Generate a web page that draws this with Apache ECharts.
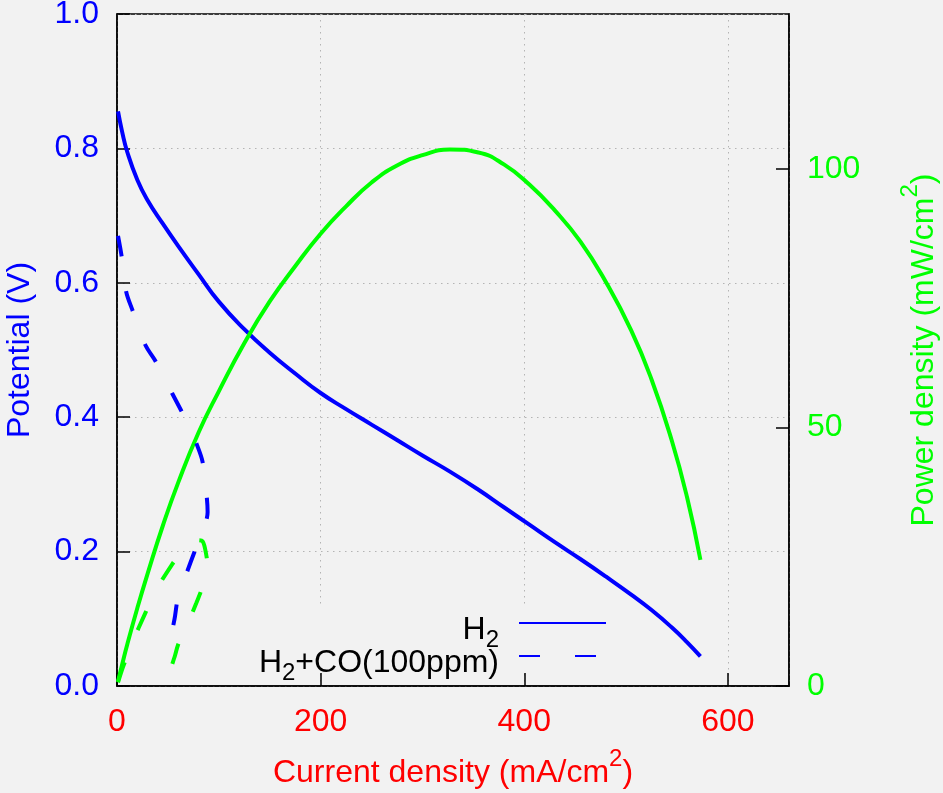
<!DOCTYPE html>
<html>
<head>
<meta charset="utf-8">
<script src="https://cdn.jsdelivr.net/npm/echarts@6/dist/echarts.min.js"></script>
<style>
html,body{margin:0;padding:0;background:#f2f2f2;}
#chart{width:943px;height:793px;}
</style>
</head>
<body>
<div id="chart"></div>
<script>
// H2 (pure hydrogen) polarisation data
const h2Current   = [1, 5, 10, 20, 30, 45, 60, 80, 100, 125, 150, 175, 200, 225, 250, 275, 300, 327, 355, 380, 405, 430, 455, 480, 505, 525, 545, 560, 573];
const h2Potential = [0.855, 0.825, 0.795, 0.753, 0.723, 0.688, 0.655, 0.613, 0.572, 0.531, 0.496, 0.465, 0.436, 0.412, 0.389, 0.366, 0.343, 0.319, 0.292, 0.266, 0.240, 0.214, 0.189, 0.163, 0.136, 0.113, 0.087, 0.065, 0.044];
const h2Power     = [0.9, 4.1, 8.0, 15.1, 21.7, 31.0, 39.3, 49.0, 57.0, 66.3, 74.4, 81.2, 87.5, 92.8, 97.4, 100.7, 102.7, 103.8, 103.2, 100.9, 97.0, 92.0, 86.0, 78.2, 68.8, 59.3, 47.4, 36.4, 24.4];

// H2 + CO (100 ppm) data
const coCurrent   = [1, 4.5, 9, 15, 28, 38, 54, 63, 72, 78, 84, 88, 89, 84, 78, 72, 66, 60, 57, 53, 58];
const coPotential = [0.670, 0.640, 0.587, 0.560, 0.507, 0.483, 0.436, 0.410, 0.383, 0.361, 0.334, 0.284, 0.259, 0.228, 0.207, 0.183, 0.158, 0.133, 0.104, 0.066, 0.060];
const coPower     = [0.7, 2.9, 5.3, 8.4, 14.2, 18.4, 23.5, 25.8, 27.6, 28.2, 28.0, 25.0, 23.0, 19.2, 16.1, 13.2, 10.4, 8.0, 5.9, 3.5, 5.2];

// Axis settings
const xTicks = [0, 200, 400, 600];
const leftTicks = [0.0, 0.2, 0.4, 0.6, 0.8, 1.0];
const rightTicks = [0, 50, 100];

const FONT = 'Liberation Sans, Arial, Helvetica, sans-serif';
const BLUE = '#0000ff', GREEN = '#00ff00', RED = '#ff0000';

function pairs(xs, ys) { return xs.map((x, i) => [x, ys[i]]); }

function supRich(color) {
  return {
    t: {fontFamily: FONT, fontSize: 32, color: color, lineHeight: 32, padding: [10, 0, 0, 0]},
    sup: {fontFamily: FONT, fontSize: 24, color: color, lineHeight: 24, padding: [0, 0, 18, 0]}
  };
}
const legendRich = {
  m: {fontFamily: FONT, fontSize: 32, color: '#000', lineHeight: 32, padding: [20, 0, 6, 0]},
  s: {fontFamily: FONT, fontSize: 24, color: '#000', lineHeight: 24, padding: [34, 0, 0, 0]}
};

const chart = echarts.init(document.getElementById('chart'), null, {renderer: 'canvas'});

const tickStyle = {show: true, inside: true, length: 13, lineStyle: {color: '#000', width: 1.5}};
const gridLine = {show: true, lineStyle: {color: '#b4b4b4', width: 1, type: [1.5, 4.5]}};

chart.setOption({
  backgroundColor: '#f2f2f2',
  animation: false,
  grid: {left: 117, right: 154, top: 14, bottom: 107, outerBoundsMode: 'none', containLabel: false,
    show: true, borderColor: '#000', borderWidth: 1.5, backgroundColor: 'transparent'},
  graphic: [{
    type: 'rect', z: 1, silent: true,
    shape: {x: 250, y: 606, width: 362, height: 66},
    style: {fill: '#f2f2f2'}
  }],
  xAxis: {
    type: 'value', min: 0, max: 660, interval: 200,
    name: '{t|Current density (mA/cm}{sup|2}{t|)}',
    nameLocation: 'middle', nameGap: 66,
    nameTextStyle: {rich: supRich(RED)},
    axisLine: {show: true, lineStyle: {color: '#000', width: 1.5}},
    axisTick: tickStyle,
    axisLabel: {color: RED, fontSize: 32, fontFamily: FONT, margin: 20, showMaxLabel: false,
      formatter: v => xTicks.indexOf(v) >= 0 ? String(v) : ''},
    splitLine: gridLine
  },
  yAxis: [{
    type: 'value', min: 0, max: 1, interval: 0.2, position: 'left',
    name: 'Potential (V)', nameLocation: 'middle', nameGap: 81, nameRotate: 90,
    nameTextStyle: {color: BLUE, fontSize: 32, fontFamily: FONT},
    axisLine: {show: true, lineStyle: {color: '#000', width: 1.5}},
    axisTick: tickStyle,
    axisLabel: {color: BLUE, fontSize: 32, fontFamily: FONT, margin: 18,
      formatter: v => leftTicks.some(t => Math.abs(t - v) < 1e-9) ? v.toFixed(1) : ''},
    splitLine: gridLine
  }, {
    type: 'value', min: 0, max: 130, interval: 50, position: 'right',
    name: '{t|Power density (mW/cm}{sup|2}{t|)}', nameLocation: 'middle', nameGap: 114, nameRotate: 90,
    nameTextStyle: {rich: supRich(GREEN)},
    axisLine: {show: true, lineStyle: {color: '#000', width: 1.5}},
    axisTick: tickStyle,
    axisLabel: {color: GREEN, fontSize: 32, fontFamily: FONT, margin: 18, showMaxLabel: false,
      formatter: v => rightTicks.indexOf(v) >= 0 ? String(v) : ''},
    splitLine: {show: false}
  }],
  legend: [{
    data: ['H2'], orient: 'vertical', align: 'right', right: 336, top: 594, padding: 0,
    itemWidth: 87, itemHeight: 14, itemGap: 0,
    itemStyle: {opacity: 0},
    formatter: () => '{m|H}{s|2}',
    textStyle: {rich: legendRich, padding: [0, 15, 0, 0]}
  }, {
    data: ['H2+CO(100ppm)'], orient: 'vertical', align: 'right', right: 336, top: 627, padding: 0,
    itemWidth: 87, itemHeight: 14, itemGap: 0,
    itemStyle: {opacity: 0},
    formatter: () => '{m|H}{s|2}{m|+CO(100ppm)}',
    textStyle: {rich: legendRich, padding: [0, 15, 0, 0]}
  }],
  series: [{
    name: 'H2', type: 'line', yAxisIndex: 0, data: pairs(h2Current, h2Potential),
    symbol: 'none', smooth: true, lineStyle: {color: BLUE, width: 4, join: 'round'}, itemStyle: {color: BLUE}
  }, {
    name: 'H2 power', type: 'line', yAxisIndex: 1, data: pairs(h2Current, h2Power),
    symbol: 'none', smooth: true, lineStyle: {color: GREEN, width: 4, join: 'round'}, itemStyle: {color: GREEN}
  }, {
    name: 'H2+CO(100ppm)', type: 'line', yAxisIndex: 0, data: pairs(coCurrent, coPotential),
    symbol: 'none', smooth: 0.3, lineStyle: {color: BLUE, width: 4, type: [21, 35]}, itemStyle: {color: BLUE}
  }, {
    name: 'H2+CO power', type: 'line', yAxisIndex: 1, data: pairs(coCurrent, coPower),
    symbol: 'none', smooth: 0.3, lineStyle: {color: GREEN, width: 4, type: [21, 35]}, itemStyle: {color: GREEN}
  }]
});
</script>
</body>
</html>
